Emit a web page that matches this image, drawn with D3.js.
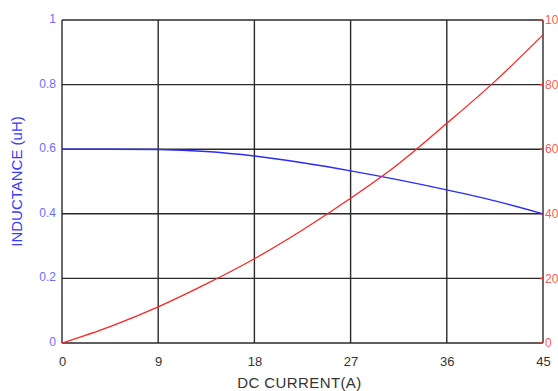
<!DOCTYPE html>
<html><head><meta charset="utf-8">
<script src="https://cdn.jsdelivr.net/npm/d3@7"></script>
<style>body{margin:0;background:#fff}svg{display:block}</style>
</head><body>
<svg id="c" width="558" height="391"></svg>
<script>
const current = [0, 4.5, 9, 13.5, 18, 22.5, 27, 31.5, 36, 40.5, 45];
const inductance = [0.6, 0.6, 0.599, 0.593, 0.579, 0.558, 0.533, 0.505, 0.474, 0.44, 0.4];
const tempRise = [0, 5.1, 11.2, 18.3, 26.1, 35.0, 44.8, 55.5, 68.0, 81.0, 95.4];
const xTicks = [0, 9, 18, 27, 36, 45];
const yTicks = [0, 0.2, 0.4, 0.6, 0.8, 1];
const y2Ticks = [0, 20, 40, 60, 80, 100];
const xTitle = "DC CURRENT(A)";
const yTitle = "INDUCTANCE (uH)";

const svg = d3.select("#c");
const L = 62, R = 543, T = 20, B = 343;
const x = d3.scaleLinear().domain([0, 45]).range([L, R]);
const y = d3.scaleLinear().domain([0, 1]).range([B, T]);
const y2 = d3.scaleLinear().domain([0, 100]).range([B, T]);
const font = "Liberation Sans, Arial, sans-serif";

// grid
const g = svg.append("g");
g.selectAll(".vx").data(xTicks).join("line")
  .attr("x1", d => x(d)).attr("x2", d => x(d)).attr("y1", T).attr("y2", B)
  .attr("stroke", "#2a2a2a").attr("stroke-width", 1.4);
g.selectAll(".hy").data(yTicks).join("line")
  .attr("y1", d => y(d)).attr("y2", d => y(d)).attr("x1", L).attr("x2", R)
  .attr("stroke", "#2a2a2a").attr("stroke-width", 1.4);

// axes labels via d3 axes
const xAxis = svg.append("g").attr("transform", `translate(0,${B})`)
  .call(d3.axisBottom(x).tickValues(xTicks).tickSize(0).tickPadding(14).tickFormat(d3.format("d")));
xAxis.select(".domain").remove();
xAxis.selectAll("text").attr("fill", "#333").attr("font-size", 13).attr("font-family", font);

const yAxis = svg.append("g").attr("transform", `translate(${L},0)`)
  .call(d3.axisLeft(y).tickValues(yTicks).tickSize(0).tickPadding(6).tickFormat(d => d3.format("")(+d.toFixed(1))));
yAxis.select(".domain").remove();
yAxis.selectAll("text").attr("fill", "#6b6bff").attr("font-size", 12).attr("font-family", font).attr("dy", "0.2em");

const y2Axis = svg.append("g").attr("transform", `translate(${R},0)`)
  .call(d3.axisRight(y2).tickValues(y2Ticks).tickSize(0).tickPadding(2));
y2Axis.select(".domain").remove();
y2Axis.selectAll("text").attr("fill", "#ff5a5a").attr("font-size", 12).attr("font-family", font).attr("dy", "0.3em");

// small red tick marks on right axis
svg.selectAll(".rt").data(y2Ticks).join("line")
  .attr("x1", R - 3).attr("x2", R).attr("y1", d => y2(d)).attr("y2", d => y2(d))
  .attr("stroke", "#ff3030").attr("stroke-width", 1.4);

// lines
const lineL = d3.line().x((d, i) => x(current[i])).y(d => y(d)).curve(d3.curveMonotoneX);
const lineR = d3.line().x((d, i) => x(current[i])).y(d => y2(d)).curve(d3.curveMonotoneX);
svg.append("path").attr("d", lineL(inductance)).attr("fill", "none")
  .attr("stroke", "#2b2bff").attr("stroke-width", 1.4);
svg.append("path").attr("d", lineR(tempRise)).attr("fill", "none")
  .attr("stroke", "#ff2424").attr("stroke-width", 1.3);

// titles
svg.append("text").attr("x", (L + R) / 2 - 3).attr("y", 388).attr("text-anchor", "middle")
  .attr("font-family", font).attr("font-size", 15).attr("letter-spacing", 0.4).attr("fill", "#333").text(xTitle);
svg.append("text").attr("transform", `translate(22,${(T + B) / 2}) rotate(-90)`).attr("text-anchor", "middle")
  .attr("font-family", font).attr("font-size", 15).attr("fill", "#3a3aff").text(yTitle);
</script>
</body></html>
